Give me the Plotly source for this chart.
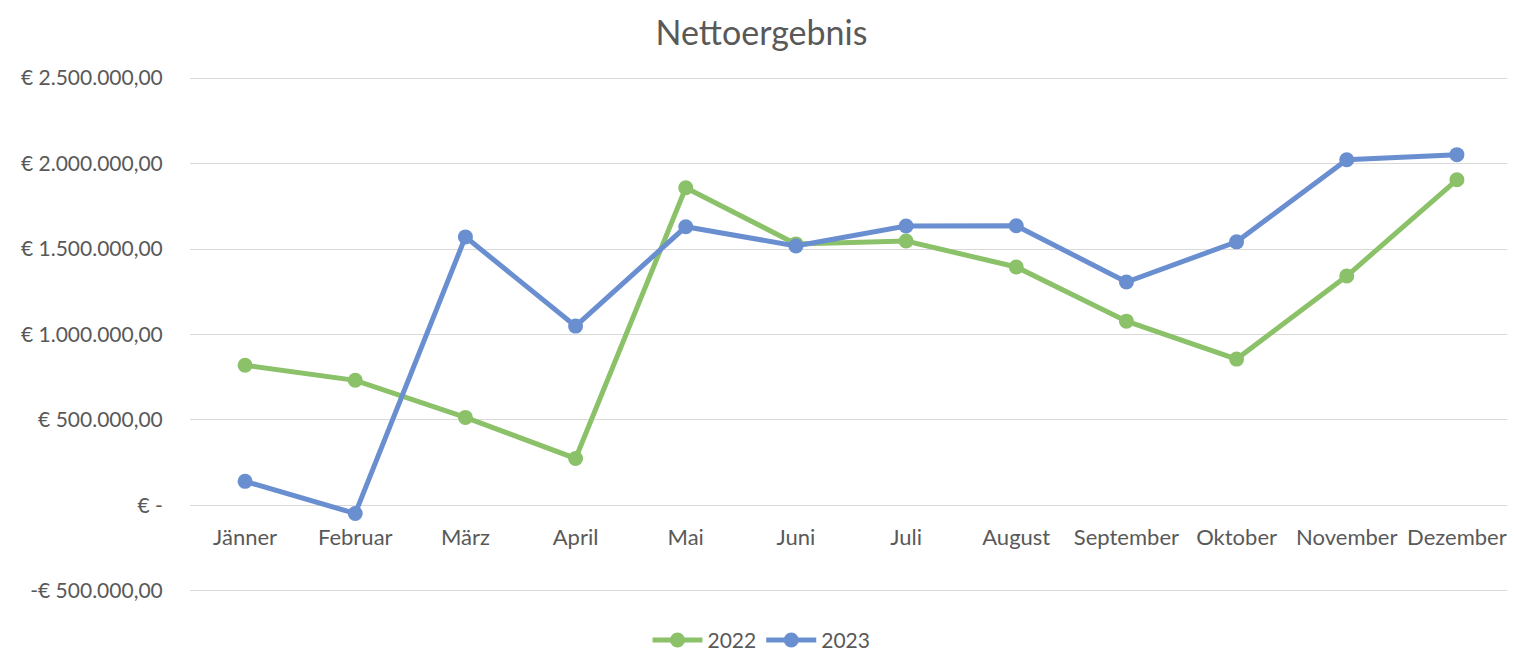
import plotly.graph_objects as go

months = ["Jänner", "Februar", "März", "April", "Mai", "Juni", "Juli",
          "August", "September", "Oktober", "November", "Dezember"]
values_2022 = [820000, 732000, 515000, 275000, 1858000, 1530000, 1547000,
               1395000, 1078000, 856000, 1342000, 1905000]
values_2023 = [141000, -47000, 1571000, 1049000, 1630000, 1518000, 1635000,
               1636000, 1307000, 1542000, 2022000, 2052000]
y_tickvals = [-500000, 0, 500000, 1000000, 1500000, 2000000, 2500000]
y_ticktext = ["-€ 500.000,00", "€ -", "€ 500.000,00", "€ 1.000.000,00",
              "€ 1.500.000,00", "€ 2.000.000,00", "€ 2.500.000,00"]

green = "#8BC168"
blue = "#6A8FD0"
font_family = "Lato, 'Open Sans', sans-serif"
text_color = "#595959"

# page body has an 8px default margin, so the figure is sized to fit the window
W, H = 1507, 645
y_lo, y_hi = -512000, 2512000

fig = go.Figure()
fig.add_trace(go.Scatter(x=months, y=values_2022, name="2022", mode="lines+markers",
                         line=dict(color=green, width=5),
                         marker=dict(color=green, size=15)))
fig.add_trace(go.Scatter(x=months, y=values_2023, name="2023", mode="lines+markers",
                         line=dict(color=blue, width=5),
                         marker=dict(color=blue, size=15)))

fig.update_layout(
    width=W, height=H,
    margin=dict(l=182, r=3, t=68, b=60, autoexpand=False),
    paper_bgcolor="white", plot_bgcolor="white",
    font=dict(family=font_family, color=text_color, size=21),
    title=dict(text="Nettoergebnis", x=0.5, xref="container", y=1 - 25 / H, yanchor="middle",
               font=dict(size=34, color=text_color, family=font_family)),
    showlegend=True,
    legend=dict(orientation="h", x=0.5, xref="container", xanchor="center",
                y=-0.052, yref="paper", yanchor="top",
                font=dict(size=21, color=text_color), itemwidth=50, tracegroupgap=0),
    xaxis=dict(type="category", anchor="free", position=-y_lo / (y_hi - y_lo), showgrid=False,
               showline=False, zeroline=False, ticks="outside", ticklen=12,
               tickcolor="rgba(0,0,0,0)", tickfont=dict(size=22, color=text_color),
               range=[-0.5, 11.5]),
    yaxis=dict(range=[y_lo, y_hi], tickvals=y_tickvals, ticktext=y_ticktext,
               showgrid=True, gridcolor="#D9D9D9", gridwidth=1.3, zeroline=False,
               showline=False, ticks="outside", ticklen=22, tickcolor="rgba(0,0,0,0)",
               tickfont=dict(size=21, color=text_color)),
)

fig.write_html("out.html")
